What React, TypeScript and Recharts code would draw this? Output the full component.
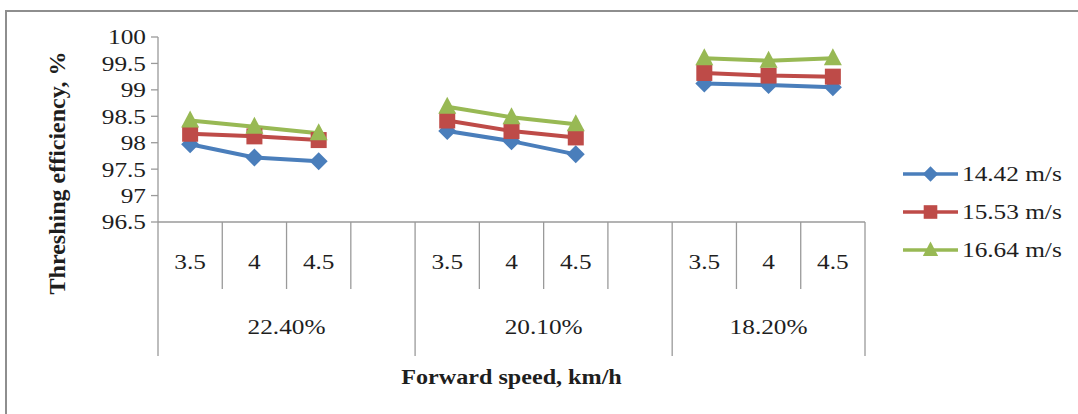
import React from 'react';
import { LineChart, Line, XAxis, YAxis, Legend } from 'recharts';

const speeds = ['3.5', '4', '4.5'];
const groups = ['22.40%', '20.10%', '18.20%'];
const seriesNames = ['14.42 m/s', '15.53 m/s', '16.64 m/s'];
const seriesColors = ['#4A7EBB', '#BE4B48', '#98B954'];
const yTicks = [96.5, 97, 97.5, 98, 98.5, 99, 99.5, 100];

// values per group, in speed order
const blue = [[97.97, 97.72, 97.65], [98.22, 98.03, 97.78], [99.12, 99.09, 99.05]];
const red = [[98.17, 98.12, 98.05], [98.42, 98.22, 98.1], [99.32, 99.27, 99.25]];
const green = [[98.42, 98.3, 98.18], [98.68, 98.48, 98.35], [99.6, 99.55, 99.6]];

const W = 1078;
const H = 414;
const M = { top: 37, right: 213, bottom: 52, left: 98 };
const Y_W = 60;
const X_H = 140;
const PLOT_L = M.left + Y_W;
const PLOT_R = W - M.right;
const AXIS_Y = H - M.bottom - X_H;
const FONT = '"Liberation Serif", "Times New Roman", serif';
const GRID = '#9a9a9a';

type Row = { key: string; speed: string; group: number; last: boolean; s0: number | null; s1: number | null; s2: number | null };

const rows: Row[] = [];
groups.forEach((g, gi) => {
  speeds.forEach((sp, si) => {
    rows.push({ key: `${gi}-${si}`, speed: sp, group: gi, last: gi === groups.length - 1 && si === speeds.length - 1, s0: blue[gi][si], s1: red[gi][si], s2: green[gi][si] });
  });
  if (gi < groups.length - 1) {
    rows.push({ key: `${gi}-gap`, speed: '', group: gi, last: true, s0: null, s1: null, s2: null });
  }
});

const BW = (PLOT_R - PLOT_L) / rows.length;

const Marker = ({ kind, cx, cy, color, k = 1 }: any) => {
  if (cx == null || cy == null) return null;
  if (kind === 0) {
    const r = 9 * k;
    return <polygon points={`${cx},${cy - r} ${cx + r},${cy} ${cx},${cy + r} ${cx - r},${cy}`} fill={color} />;
  }
  if (kind === 1) {
    const h = 8 * k;
    return <rect x={cx - h} y={cy - h} width={2 * h} height={2 * h} fill={color} />;
  }
  return <polygon points={`${cx},${cy - 10 * k} ${cx + 9 * k},${cy + 7 * k} ${cx - 9 * k},${cy + 7 * k}`} fill={color} />;
};

const STR = (x: number, y: number, s: string, anchor: string, size = 22, bold = false) => (
  <text
    transform={`translate(${x},${y}) scale(1.15,1)`}
    x={0}
    y={0}
    textAnchor={anchor as any}
    dominantBaseline="central"
    fontFamily={FONT}
    fontSize={size}
    fontWeight={bold ? 'bold' : 'normal'}
    fill="#1e1e1e"
  >
    {s}
  </text>
);

const XTick = (props: any) => {
  const { x, index } = props;
  const row = rows[index];
  if (!row) return null;
  const right = x + BW / 2;
  const firstOfGroup = row.speed === speeds[0];
  let groupLabel = null;
  if (firstOfGroup) {
    const count = rows.filter((r) => r.group === row.group).length;
    const cx = x - BW / 2 + (count * BW) / 2;
    groupLabel = STR(cx, 327, groups[row.group], 'middle');
  }
  return (
    <g>
      {index === 0 && <line x1={x - BW / 2} y1={AXIS_Y} x2={x - BW / 2} y2={356} stroke={GRID} strokeWidth={1.3} />}
      <line x1={right} y1={AXIS_Y} x2={right} y2={row.last ? 356 : 289} stroke={GRID} strokeWidth={1.3} />
      {row.speed && STR(x, 262, row.speed, 'middle')}
      {groupLabel}
    </g>
  );
};

const YTick = (props: any) => {
  const { y, payload } = props;
  return STR(PLOT_L - 12, y, String(payload.value), 'end');
};

const LegendContent = () => (
  <svg width={180} height={120}>
    {seriesNames.map((n, i) => {
      const cy = 19 + i * 38;
      return (
        <g key={n}>
          <line x1={8} y1={cy} x2={63} y2={cy} stroke={seriesColors[i]} strokeWidth={3.5} />
          <Marker kind={i} cx={35.5} cy={cy} color={seriesColors[i]} k={0.85} />
          {STR(67, cy, n, 'start')}
        </g>
      );
    })}
  </svg>
);

export default function App() {
  return (
    <div style={{ position: 'absolute', left: 0, top: 0, width: W, height: H, overflow: 'hidden', background: '#fff' }}>
      <div style={{ position: 'absolute', left: 5, top: 10, width: 1200, height: 600, borderLeft: '2px solid #8e8e8e', borderTop: '2px solid #8e8e8e' }} />
      <LineChart width={W} height={H} data={rows} margin={M}>
        <XAxis
          dataKey="key"
          type="category"
          interval={0}
          height={X_H}
          padding={{ left: BW / 2, right: BW / 2 }}
          tickLine={false}
          axisLine={{ stroke: GRID, strokeWidth: 1.3 }}
          tick={<XTick />}
        />
        <YAxis
          width={Y_W}
          domain={[96.5, 100]}
          ticks={yTicks}
          interval={0}
          tickSize={7}
          tickLine={{ stroke: GRID, strokeWidth: 1.3 }}
          axisLine={{ stroke: GRID, strokeWidth: 1.3 }}
          tick={<YTick />}
        />
        <Legend
          layout="vertical"
          align="center"
          verticalAlign="middle"
          wrapperStyle={{ left: 895, top: 155, width: 180, height: 120 }}
          content={<LegendContent />}
        />
        {seriesNames.map((n, i) => (
          <Line
            key={n}
            dataKey={`s${i}`}
            name={n}
            stroke={seriesColors[i]}
            strokeWidth={4}
            connectNulls={false}
            isAnimationActive={false}
            dot={(p: any) => <Marker key={`${i}-${p.index}`} kind={i} cx={p.cx} cy={p.cy} color={seriesColors[i]} />}
            activeDot={false}
          />
        ))}
      </LineChart>
      <svg width={W} height={H} style={{ position: 'absolute', left: 0, top: 0, pointerEvents: 'none' }}>
        {STR((PLOT_L + PLOT_R) / 2, 377, 'Forward speed, km/h', 'middle', 21, true)}
        <text
          transform="translate(57,173) rotate(-90)"
          textAnchor="middle"
          dominantBaseline="central"
          fontFamily={FONT}
          fontSize={24}
          fontWeight="bold"
          fill="#1e1e1e"
        >
          Threshing efficiency, %
        </text>
      </svg>
    </div>
  );
}
